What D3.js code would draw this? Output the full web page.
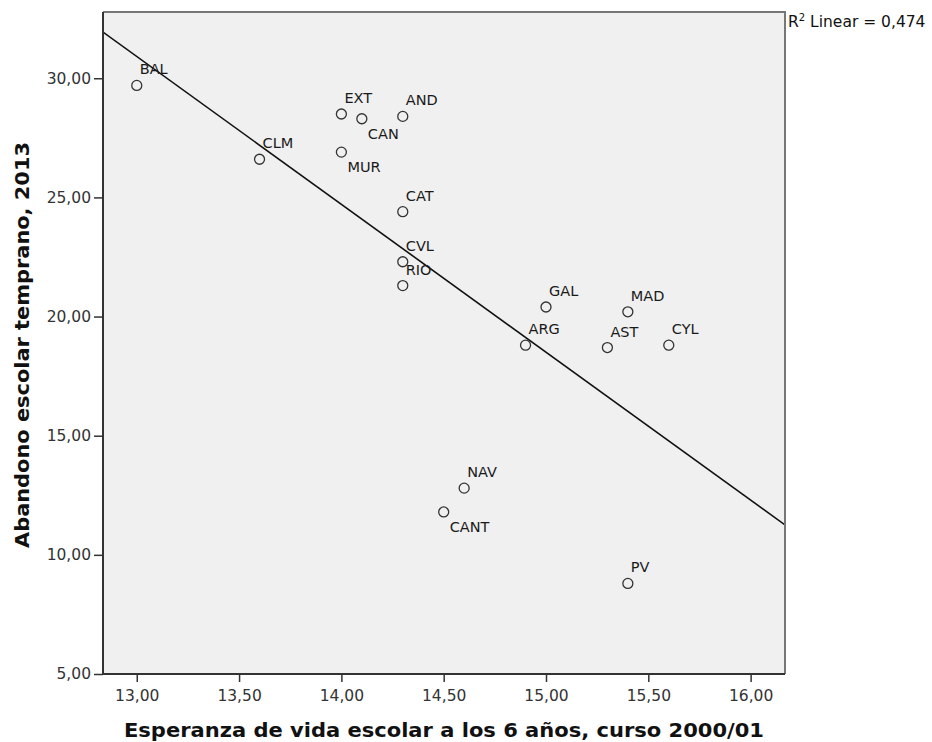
<!DOCTYPE html>
<html>
<head>
<meta charset="utf-8">
<script src="https://cdn.jsdelivr.net/npm/d3@7"></script>
<style>
  body { margin: 0; background: #fff; }
  svg { display: block; font-family: "DejaVu Sans", sans-serif; }
</style>
</head>
<body>
<div id="chart"></div>
<script>
// data
const regions = ['BAL', 'CLM', 'EXT', 'CAN', 'AND', 'MUR', 'CAT', 'CVL', 'RIO',
  'GAL', 'MAD', 'ARG', 'AST', 'CYL', 'NAV', 'CANT', 'PV'];
const esperanza = [13.0, 13.6, 14.0, 14.1, 14.3, 14.0, 14.3, 14.3, 14.3,
  15.0, 15.4, 14.9, 15.3, 15.6, 14.6, 14.5, 15.4];
const abandono = [29.7, 26.6, 28.5, 28.3, 28.4, 26.9, 24.4, 22.3, 21.3,
  20.4, 20.2, 18.8, 18.7, 18.8, 12.8, 11.8, 8.8];
const xTicks = [13, 13.5, 14, 14.5, 15, 15.5, 16];
const yTicks = [5, 10, 15, 20, 25, 30];
const r2Label = '0,474';

// labels that SPSS put under the marker instead of above it
const labelsBelow = ['CAN', 'MUR', 'CANT'];

const width = 932;
const height = 742;
const plot = { left: 103, right: 785, top: 12, bottom: 674 };

const points = regions.map((name, i) => ({ name, x: esperanza[i], y: abandono[i] }));

const locale = d3.formatLocale({ decimal: ',', thousands: '.', grouping: [3], currency: ['', ''] });
const fmt = locale.format('.2f');

const svg = d3.select('#chart')
  .append('svg')
  .attr('width', width)
  .attr('height', height);

const x = d3.scaleLinear()
  .domain([12.835, 16.168])
  .range([plot.left, plot.right]);

const y = d3.scaleLinear()
  .domain([5, 32.78])
  .range([plot.bottom, plot.top]);

// plot background
svg.append('rect')
  .attr('x', plot.left)
  .attr('y', plot.top)
  .attr('width', plot.right - plot.left)
  .attr('height', plot.bottom - plot.top)
  .attr('fill', '#f0f0f0');

svg.append('clipPath')
  .attr('id', 'clip')
  .append('rect')
  .attr('x', plot.left)
  .attr('y', plot.top)
  .attr('width', plot.right - plot.left)
  .attr('height', plot.bottom - plot.top);

// least squares fit line
const mx = d3.mean(points, d => d.x);
const my = d3.mean(points, d => d.y);
const sxy = d3.sum(points, d => (d.x - mx) * (d.y - my));
const sxx = d3.sum(points, d => (d.x - mx) ** 2);
const slope = sxy / sxx;
const intercept = my - slope * mx;
const fitLine = x.domain().map(v => ({ x: v, y: intercept + slope * v }));

svg.append('path')
  .datum(fitLine)
  .attr('clip-path', 'url(#clip)')
  .attr('fill', 'none')
  .attr('stroke', '#111')
  .attr('stroke-width', 1.6)
  .attr('d', d3.line().x(d => x(d.x)).y(d => y(d.y)));

// markers
svg.append('g')
  .selectAll('circle')
  .data(points)
  .enter()
  .append('circle')
  .attr('cx', d => x(d.x))
  .attr('cy', d => y(d.y))
  .attr('r', 5)
  .attr('fill', 'none')
  .attr('stroke', '#333')
  .attr('stroke-width', 1.3);

svg.append('g')
  .selectAll('text')
  .data(points)
  .enter()
  .append('text')
  .attr('x', d => x(d.x) + (labelsBelow.includes(d.name) ? 6 : 3))
  .attr('y', d => y(d.y) + (labelsBelow.includes(d.name) ? 20 : -11))
  .attr('font-size', 14.5)
  .attr('fill', '#1a1a1a')
  .text(d => d.name);

// frame
svg.append('path')
  .attr('d', `M${plot.left},${plot.top}H${plot.right}V${plot.bottom}`)
  .attr('fill', 'none')
  .attr('stroke', '#777')
  .attr('stroke-width', 2);

svg.append('path')
  .attr('d', `M${plot.left},${plot.top}V${plot.bottom}H${plot.right}`)
  .attr('fill', 'none')
  .attr('stroke', '#333')
  .attr('stroke-width', 2);

// axes
const xAxis = d3.axisBottom(x)
  .tickValues(xTicks)
  .tickFormat(fmt)
  .tickSize(8)
  .tickPadding(8);

const yAxis = d3.axisLeft(y)
  .tickValues(yTicks)
  .tickFormat(fmt)
  .tickSize(9)
  .tickPadding(3);

const gx = svg.append('g')
  .attr('transform', `translate(0, ${plot.bottom})`)
  .call(xAxis);

const gy = svg.append('g')
  .attr('transform', `translate(${plot.left}, 0)`)
  .call(yAxis);

[gx, gy].forEach(g => {
  g.select('.domain').remove();
  g.selectAll('.tick line').attr('stroke', '#333').attr('stroke-width', 1.5);
  g.selectAll('.tick text')
    .attr('fill', '#333')
    .attr('font-size', 15.5)
    .attr('font-family', '"DejaVu Sans", sans-serif');
});

// axis titles
svg.append('text')
  .attr('x', (plot.left + plot.right) / 2)
  .attr('y', 737)
  .attr('text-anchor', 'middle')
  .attr('font-size', 20)
  .attr('font-weight', 'bold')
  .attr('fill', '#111')
  .attr('textLength', 640)
  .attr('lengthAdjust', 'spacingAndGlyphs')
  .text('Esperanza de vida escolar a los 6 años, curso 2000/01');

svg.append('text')
  .attr('transform', 'translate(28.5, 345) rotate(-90)')
  .attr('text-anchor', 'middle')
  .attr('font-size', 20)
  .attr('font-weight', 'bold')
  .attr('fill', '#111')
  .attr('textLength', 406)
  .attr('lengthAdjust', 'spacingAndGlyphs')
  .text('Abandono escolar temprano, 2013');

// fit annotation
const r2 = svg.append('text')
  .attr('x', 788)
  .attr('y', 27)
  .attr('font-size', 15.5)
  .attr('fill', '#111');
r2.append('tspan').text('R');
r2.append('tspan').attr('dy', -6).attr('font-size', 10).text('2');
r2.append('tspan').attr('dy', 6).text(' Linear = ' + r2Label);
</script>
</body>
</html>
